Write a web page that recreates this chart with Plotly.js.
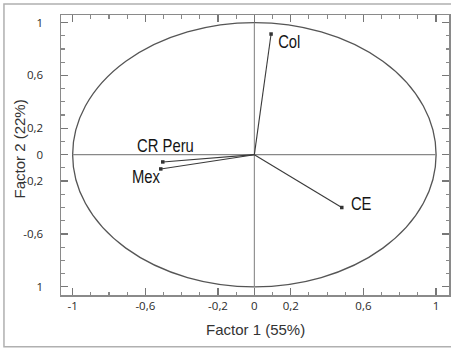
<!DOCTYPE html>
<html>
<head>
<meta charset="utf-8">
<script src="https://cdn.plot.ly/plotly-3.0.1.min.js"></script>
<style>
  html, body { margin: 0; padding: 0; background: #fff; }
  #chart { width: 451px; height: 349px; }
</style>
</head>
<body>
<div id="chart"></div>
<script>
// Variables and their loadings on Factor 1 / Factor 2
const variables = ["Col", "CE", "CR Peru", "Mex"];
const factor1 = [0.092, 0.481, -0.504, -0.515];
const factor2 = [0.913, -0.400, -0.055, -0.108];

// Axis tick labels
const xTickVals = [-1, -0.6, -0.2, 0, 0.2, 0.6, 1];
const xTickText = ["-1", "-0,6", "-0,2", "0", "0,2", "0,6", "1"];
const yTickVals = [1, 0.6, 0.2, 0, -0.2, -0.6, -1];
const yTickText = ["1", "0,6", "0,2", "0", "-0,2", "-0,6", "1"];

const xTitle = "Factor 1 (55%)";
const yTitle = "Factor 2 (22%)";

// label placement (pixel offsets of label centre from each point)
const labelShift = {
  "Col":     {xshift: 18.5, yshift: -7},
  "CE":      {xshift: 19.5, yshift: 4},
  "CR Peru": {xshift: 2.5,  yshift: 16},
  "Mex":     {xshift: -14.5, yshift: -8}
};

// build vector line trace (origin -> loading)
const lx = [], ly = [];
variables.forEach((v, i) => { lx.push(0, factor1[i], null); ly.push(0, factor2[i], null); });

const traces = [
  {
    x: lx, y: ly, type: "scatter", mode: "lines",
    line: {color: "#3a3a3a", width: 1.1},
    hoverinfo: "skip", showlegend: false
  },
  {
    x: factor1, y: factor2, type: "scatter", mode: "markers",
    marker: {symbol: "square", size: 3.5, color: "#333"},
    text: variables, hoverinfo: "text", showlegend: false
  }
];

const labelFont = {family: "Liberation Sans, Arial, sans-serif", size: 19, color: "#151515"};
const titleFont = {family: "Liberation Sans, Arial, sans-serif", size: 15, color: "#333"};

const annotations = variables.map((v, i) => Object.assign({
  x: factor1[i], y: factor2[i], xref: "x", yref: "y",
  text: v, showarrow: false, font: labelFont,
  xanchor: "center", yanchor: "middle"
}, labelShift[v]));

// axis titles
annotations.push({
  xref: "paper", yref: "paper", x: 0.5, y: -0.124, xanchor: "center", yanchor: "middle",
  text: xTitle, showarrow: false, font: titleFont
});
annotations.push({
  xref: "paper", yref: "paper", x: -0.108, y: 0.52, xanchor: "center", yanchor: "middle",
  text: yTitle, textangle: -90, showarrow: false, font: titleFont
});

const axisCommon = {
  showgrid: false, zeroline: false,
  showline: true, linecolor: "#8a8a8a", linewidth: 1.5,
  mirror: "allticks",
  ticks: "inside", ticklen: 7, tickwidth: 1.3, tickcolor: "#777",
  tickmode: "array",
  tickfont: {family: "Open Sans, DejaVu Sans, sans-serif", size: 11.5, color: "#2a2a2a"},
  minor: {tickmode: "linear", tick0: 0, dtick: 0.1, ticklen: 3.5, tickwidth: 1.1, tickcolor: "#888", ticks: "inside"},
  fixedrange: true
};

const layout = {
  width: 451, height: 349,
  margin: {l: 61, r: 2, t: 15, b: 54},
  paper_bgcolor: "#fff", plot_bgcolor: "#fff",
  xaxis: Object.assign({}, axisCommon, {
    range: [-1.064, 1.071],
    tickvals: xTickVals, ticktext: xTickText,
    ticklabelstandoff: 0
  }),
  yaxis: Object.assign({}, axisCommon, {
    range: [-1.062, 1.057],
    tickvals: yTickVals, ticktext: yTickText,
    ticklabelstandoff: 14
  }),
  shapes: [
    {type: "circle", xref: "x", yref: "y", x0: -1, x1: 1, y0: -1, y1: 1,
     line: {color: "#555", width: 1.3}, layer: "below"},
    {type: "line", xref: "x", yref: "y", x0: -1, x1: 1, y0: 0, y1: 0,
     line: {color: "#888", width: 1.1}, layer: "below"},
    {type: "line", xref: "x", yref: "y", x0: 0, x1: 0, y0: -1, y1: 1,
     line: {color: "#888", width: 1.1}, layer: "below"},
    {type: "rect", xref: "paper", yref: "paper", x0: -0.147, x1: 1.012, y0: -0.185, y1: 1.039,
     line: {color: "#b0b0b0", width: 1.5}, fillcolor: "rgba(0,0,0,0)", layer: "below"}
  ],
  annotations: annotations,
  showlegend: false
};

// Narrow-font look: compress the point labels horizontally (text stays real text)
function condenseLabels() {
  document.querySelectorAll("#chart .annotation-text").forEach(t => {
    if (variables.indexOf(t.textContent) < 0) return;
    const w = t.getComputedTextLength();
    t.setAttribute("textLength", (w * 0.78).toFixed(1));
    t.setAttribute("lengthAdjust", "spacingAndGlyphs");
  });
}

Plotly.newPlot("chart", traces, layout, {displayModeBar: false, staticPlot: true}).then(condenseLabels);
</script>
</body>
</html>
